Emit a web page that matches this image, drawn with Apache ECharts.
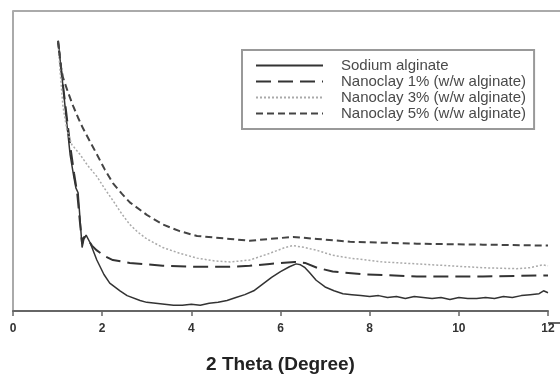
<!DOCTYPE html>
<html>
<head>
<meta charset="utf-8">
<script src="https://cdn.jsdelivr.net/npm/echarts@6/dist/echarts.min.js"></script>
<style>
  html, body { margin: 0; padding: 0; background: #fff; }
  #chart { width: 560px; height: 379px; }
</style>
</head>
<body>
<div id="chart"></div>
<script>
// 2 Theta (degree) and intensity (arbitrary units)
const sodiumX = [1.01, 1.10, 1.19, 1.28, 1.37, 1.41, 1.46, 1.50, 1.55, 1.59, 1.64, 1.73, 1.88, 2.04, 2.17, 2.40, 2.56, 2.85, 3.0, 3.2, 3.4, 3.6, 3.8, 4.0, 4.2, 4.4, 4.6, 4.8, 5.0, 5.2, 5.4, 5.6, 5.8, 6.0, 6.2, 6.35, 6.45, 6.55, 6.65, 6.8, 7.0, 7.2, 7.4, 7.6, 7.8, 8.0, 8.2, 8.4, 8.6, 8.8, 9.0, 9.2, 9.4, 9.6, 9.8, 10.0, 10.2, 10.4, 10.6, 10.8, 11.0, 11.2, 11.4, 11.6, 11.8, 11.9, 12.0];
const sodiumY = [281, 243, 203, 163, 138, 128, 123, 98, 66, 75, 79, 71, 53, 38, 29, 21, 16, 11, 9, 8, 7, 6, 6, 7, 6, 8, 9, 11, 14, 17, 21, 28, 35, 41, 46, 49, 48, 45, 40, 32, 25, 21, 18, 17, 16, 15, 16, 14, 15, 13, 15, 14, 13, 14, 12, 14, 13, 13, 14, 13, 15, 14, 16, 17, 18, 21, 19];

const nc1X = [1.01, 1.10, 1.19, 1.28, 1.37, 1.44, 1.50, 1.55, 1.59, 1.66, 1.77, 1.88, 2.06, 2.24, 2.62, 3.36, 4.13, 4.87, 5.31, 5.76, 6.32, 6.55, 6.82, 7.17, 7.94, 9.06, 10.54, 12.0];
const nc1Y = [281, 243, 208, 173, 143, 123, 93, 70, 77, 76, 68, 63, 57, 53, 50, 47, 46, 46, 47, 49, 51, 50, 45, 41, 38, 36, 36, 37];

const nc3X = [1.01, 1.05, 1.12, 1.21, 1.32, 1.50, 1.68, 1.88, 2.06, 2.24, 2.44, 2.62, 2.80, 3.00, 3.36, 3.74, 4.13, 4.53, 4.87, 5.31, 5.76, 6.10, 6.28, 6.55, 6.82, 7.17, 7.56, 8.30, 9.06, 9.80, 10.54, 11.30, 11.59, 11.88, 12.0];
const nc3Y = [281, 253, 213, 188, 173, 163, 151, 140, 127, 115, 101, 90, 82, 75, 66, 60, 55, 52, 51, 53, 60, 66, 68, 66, 63, 58, 55, 51, 49, 47, 45, 44, 45, 48, 47];

const nc5X = [1.01, 1.08, 1.12, 1.23, 1.35, 1.46, 1.57, 1.73, 1.88, 2.06, 2.24, 2.44, 2.62, 3.00, 3.36, 3.74, 4.13, 4.87, 5.31, 5.76, 6.28, 6.82, 7.56, 8.30, 9.06, 10.54, 12.0];
const nc5Y = [281, 253, 243, 228, 213, 201, 190, 176, 163, 147, 133, 122, 113, 100, 90, 83, 78, 75, 73, 75, 77, 75, 72, 71, 70, 69, 68];

const seriesNames = ['Sodium alginate', 'Nanoclay 1% (w/w alginate)', 'Nanoclay 3% (w/w alginate)', 'Nanoclay 5% (w/w alginate)'];
const xTicks = [0, 2, 4, 6, 8, 10, 12];

const zip = (xs, ys) => xs.map((x, i) => [x, ys[i]]);

const chart = echarts.init(document.getElementById('chart'));

const lineSeries = (name, data, color, width, type) => ({
  name,
  type: 'line',
  data,
  showSymbol: false,
  symbol: 'none',
  animation: false,
  lineStyle: { color, width, type },
  itemStyle: { color },
});

chart.setOption({
  animation: false,
  grid: { left: 13, right: 12, top: 11, bottom: 56 },
  legend: {
    orient: 'vertical',
    left: 242,
    top: 50,
    data: seriesNames,
    itemWidth: 67,
    itemHeight: 12,
    itemGap: 1,
    padding: [8, 8, 8, 13],
    borderColor: '#999',
    borderWidth: 2,
    backgroundColor: '#fff',
    itemStyle: { opacity: 0 },
    textStyle: { fontFamily: 'Liberation Sans', fontSize: 15, lineHeight: 14, color: '#4a4a4a', padding: [0, 0, 0, 13] },
  },
  xAxis: {
    type: 'value',
    min: 0,
    max: 12,
    interval: 2,
    name: '2 Theta (Degree)',
    nameLocation: 'middle',
    nameGap: 44,
    nameTextStyle: { fontFamily: 'Liberation Sans', fontWeight: 'bold', fontSize: 19, color: '#222' },
    axisLine: { show: true, lineStyle: { color: '#666', width: 2 } },
    axisTick: { show: true, inside: false, length: 5, lineStyle: { color: '#666', width: 1.5 } },
    axisLabel: {
      fontFamily: 'Liberation Sans', fontWeight: 'bold', fontSize: 12, color: '#333', margin: 12,
      formatter: (v) => (xTicks.includes(v) ? String(v) : ''),
    },
    splitLine: { show: false },
  },
  yAxis: {
    type: 'value',
    min: 0,
    max: 312,
    axisLine: { show: true, lineStyle: { color: '#aaa', width: 2 } },
    axisTick: { show: false },
    axisLabel: { show: false },
    splitLine: { show: false },
  },
  graphic: [
    { type: 'line', shape: { x1: 13, y1: 11, x2: 560, y2: 11 }, style: { stroke: '#aaa', lineWidth: 2 }, silent: true },
    { type: 'line', shape: { x1: 548, y1: 323, x2: 560, y2: 323 }, style: { stroke: '#666', lineWidth: 2 }, silent: true },
  ],
  series: [
    lineSeries(seriesNames[0], zip(sodiumX, sodiumY), '#333', 1.5, 'solid'),
    lineSeries(seriesNames[1], zip(nc1X, nc1Y), '#333', 2, [15, 7]),
    lineSeries(seriesNames[2], zip(nc3X, nc3Y), '#aaa', 1.5, [2, 2]),
    lineSeries(seriesNames[3], zip(nc5X, nc5Y), '#444', 2, [7, 4]),
  ],
});
</script>
</body>
</html>
